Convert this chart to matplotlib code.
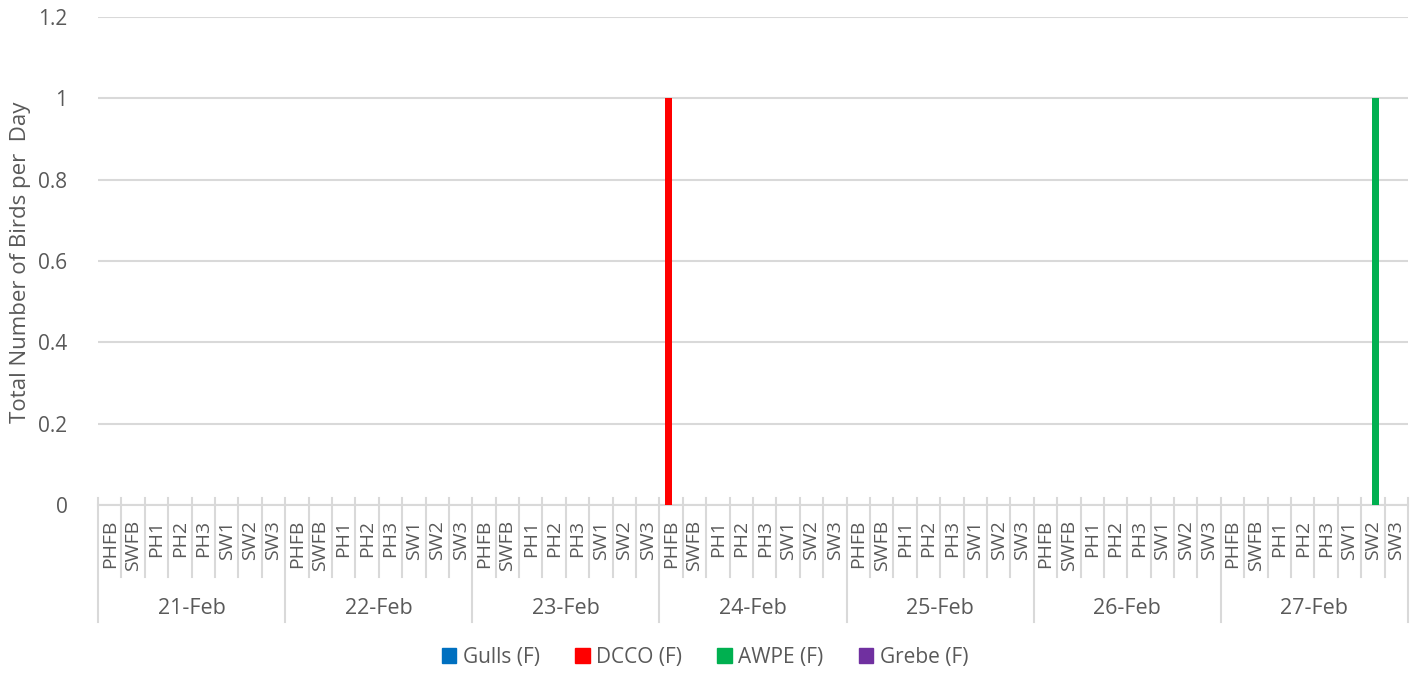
import matplotlib.pyplot as plt
import matplotlib.transforms as mtransforms
from matplotlib.patches import Patch
import numpy as np

plt.rcParams['font.family'] = ['Open Sans', 'DejaVu Sans']

days = ['21-Feb', '22-Feb', '23-Feb', '24-Feb', '25-Feb', '26-Feb', '27-Feb']
sites = ['PHFB', 'SWFB', 'PH1', 'PH2', 'PH3', 'SW1', 'SW2', 'SW3']

# one value per (day, site), in day order
gulls = [0, 0, 0, 0, 0, 0, 0, 0,
         0, 0, 0, 0, 0, 0, 0, 0,
         0, 0, 0, 0, 0, 0, 0, 0,
         0, 0, 0, 0, 0, 0, 0, 0,
         0, 0, 0, 0, 0, 0, 0, 0,
         0, 0, 0, 0, 0, 0, 0, 0,
         0, 0, 0, 0, 0, 0, 0, 0]
dcco = [0, 0, 0, 0, 0, 0, 0, 0,
        0, 0, 0, 0, 0, 0, 0, 0,
        0, 0, 0, 0, 0, 0, 0, 0,
        1, 0, 0, 0, 0, 0, 0, 0,
        0, 0, 0, 0, 0, 0, 0, 0,
        0, 0, 0, 0, 0, 0, 0, 0,
        0, 0, 0, 0, 0, 0, 0, 0]
awpe = [0, 0, 0, 0, 0, 0, 0, 0,
        0, 0, 0, 0, 0, 0, 0, 0,
        0, 0, 0, 0, 0, 0, 0, 0,
        0, 0, 0, 0, 0, 0, 0, 0,
        0, 0, 0, 0, 0, 0, 0, 0,
        0, 0, 0, 0, 0, 0, 0, 0,
        0, 0, 0, 0, 0, 0, 1, 0]
grebe = [0, 0, 0, 0, 0, 0, 0, 0,
         0, 0, 0, 0, 0, 0, 0, 0,
         0, 0, 0, 0, 0, 0, 0, 0,
         0, 0, 0, 0, 0, 0, 0, 0,
         0, 0, 0, 0, 0, 0, 0, 0,
         0, 0, 0, 0, 0, 0, 0, 0,
         0, 0, 0, 0, 0, 0, 0, 0]

series = [('Gulls (F)', gulls, '#0070C0'),
          ('DCCO (F)', dcco, '#FF0000'),
          ('AWPE (F)', awpe, '#00B050'),
          ('Grebe (F)', grebe, '#7030A0')]

text_col = '#595959'
line_col = '#D9D9D9'
W, H = 1416, 681

fig = plt.figure(figsize=(W / 100, H / 100), dpi=100)
ax = fig.add_axes([98 / W, 1 - 505 / H, (1408 - 98) / W, (505 - 17) / H])

n = len(days) * len(sites)
x = np.arange(n)
step = 0.2
for i, (name, vals, col) in enumerate(series):
    ax.bar(x + (i - 1.5) * step, vals, width=0.3, color=col, zorder=3)

ax.set_xlim(-0.5, n - 0.5)
ax.set_ylim(0, 1.2)
ax.set_yticks(np.arange(0, 1.21, 0.2))
ax.set_yticklabels(['0', '0.2', '0.4', '0.6', '0.8', '1', '1.2'])
ax.tick_params(axis='y', length=0, pad=22, labelsize=15, labelcolor=text_col)
ax.set_xticks([])
ax.grid(axis='y', color=line_col, lw=1.5, zorder=0)
for s in ['top', 'right', 'left']:
    ax.spines[s].set_visible(False)
ax.spines['bottom'].set_color(line_col)
ax.spines['bottom'].set_linewidth(1.5)
ax.set_ylabel('Total Number of Birds per  Day', fontsize=16, color=text_col)
ax.yaxis.set_label_coords((31 - 98) / (1408 - 98), (505 - 262) / (505 - 17))

# multi-level category axis
tr = mtransforms.blended_transform_factory(ax.transData, ax.transAxes)
axh = 505 - 17
def fy(py):
    return (505 - py) / axh

for k in range(n + 1):
    xb = k - 0.5
    bottom = 622 if k % len(sites) == 0 else 577
    ax.plot([xb, xb], [fy(498), fy(bottom)], color=line_col, lw=1.5,
            transform=tr, clip_on=False)

for k in range(n):
    ax.text(k, fy(520), sites[k % len(sites)], rotation=90, ha='center', va='top',
            fontsize=14, color=text_col, transform=tr)

for d, day in enumerate(days):
    xc = d * len(sites) + (len(sites) - 1) / 2
    ax.text(xc, fy(608), day, ha='center', va='center', fontsize=15.5,
            color=text_col, transform=tr)

handles = [Patch(color=col, label=name) for name, vals, col in series]
fig.legend(handles=handles, loc='center', bbox_to_anchor=(705 / W, 1 - 657 / H),
           ncol=4, frameon=False, fontsize=15, labelcolor=text_col,
           handlelength=0.7, handleheight=0.7, handletextpad=0.3,
           columnspacing=1.7)

fig.savefig('out.png', dpi=100)
